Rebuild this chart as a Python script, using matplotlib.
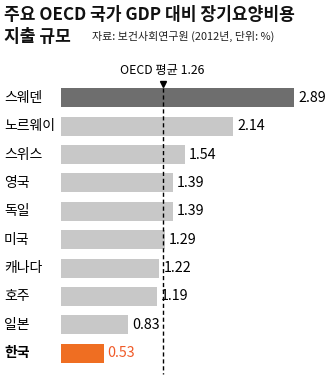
import matplotlib.pyplot as plt

# data
countries = ['스웨덴', '노르웨이', '스위스', '영국', '독일', '미국', '캐나다', '호주', '일본', '한국']
values = [2.89, 2.14, 1.54, 1.39, 1.39, 1.29, 1.22, 1.19, 0.83, 0.53]
oecd_mean = 1.26

plt.rcParams['font.family'] = ['Noto Sans CJK KR', 'DejaVu Sans']

W, H = 330, 377
fig = plt.figure(figsize=(W / 100, H / 100), dpi=100)
fig.patch.set_facecolor('white')

# axes in pixel layout: bars start at x=61, 80.6 px per unit
x0, ppu = 61, 80.6
top, bot = 83.8, 367.2
ax = fig.add_axes([x0 / W, 1 - bot / H, (W - x0) / W, (bot - top) / H])
ax.set_xlim(0, (W - x0) / ppu)
ax.set_ylim(len(values) - 0.5, -0.5)
ax.axis('off')

colors = ['#6e6e6e'] + ['#c8c8c8'] * (len(values) - 2) + ['#ef6e22']
ypos = list(range(len(values)))
ax.barh(ypos, values, height=0.67, color=colors, zorder=1)

# OECD mean
ax.plot([oecd_mean, oecd_mean], [-0.36, len(values) - 0.25], color='black',
        lw=1, ls=(0, (3, 2)), zorder=3, clip_on=False)
ax.plot(oecd_mean, -0.5, marker='v', color='black', ms=5, clip_on=False, zorder=4)
ax.text(oecd_mean, -0.97, 'OECD 평균 1.26', ha='center', va='center',
        fontsize=8.8, color='black', clip_on=False)

for i, (c, v) in enumerate(zip(countries, values)):
    korea = c == '한국'
    ax.text(v + 0.05, i, f'{v:.2f}', va='center', ha='left', fontsize=10.3,
            color='#f05a28' if korea else 'black', zorder=5)
    fig.text(4 / W, 1 - (98 + 28.33 * i) / H, c, ha='left', va='center',
             fontsize=10, fontweight='bold' if korea else 'normal', color='black')

# title
fig.text(4 / W, 1 - 15 / H, '주요 OECD 국가 GDP 대비 장기요양비용', ha='left', va='center',
         fontsize=12.3, fontweight='bold', color='#111111')
fig.text(4 / W, 1 - 37 / H, '지출 규모', ha='left', va='center',
         fontsize=12.3, fontweight='bold', color='#111111')
fig.text(92 / W, 1 - 36 / H, '자료: 보건사회연구원 (2012년, 단위: %)', ha='left', va='center',
         fontsize=7.9, color='#222222')

fig.savefig('out.png', dpi=100)
